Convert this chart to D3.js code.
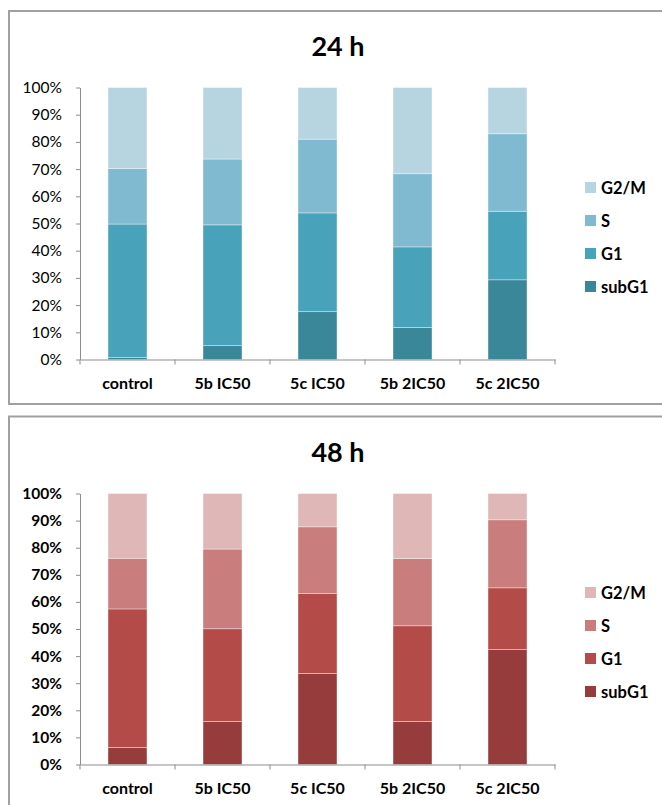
<!DOCTYPE html>
<html>
<head>
<meta charset="utf-8">
<script src="https://cdn.jsdelivr.net/npm/d3@7/dist/d3.min.js"></script>
<style>
  html, body { margin: 0; padding: 0; background: #fff; }
  svg { display: block; font-family: Lato, "Open Sans", sans-serif; }
</style>
</head>
<body>
<svg id="chart" width="662" height="805"></svg>
<script>
// Treatments on the x axis
const categories = ["control", "5b IC50", "5c IC50", "5b 2IC50", "5c 2IC50"];
// Cell-cycle phases, stacked bottom to top
const phases = ["subG1", "G1", "S", "G2/M"];
const yTicks = [0, 10, 20, 30, 40, 50, 60, 70, 80, 90, 100];

// 24 h: percentage of cells in each phase
const subG1_24 = [0.7, 5.1, 17.6, 11.8, 29.3];
const G1_24    = [49.1, 44.4, 36.3, 29.6, 25.2];
const S_24     = [20.4, 24.2, 27.1, 26.9, 28.5];
const G2M_24   = [29.8, 26.3, 19.0, 31.7, 17.0];

// 48 h: percentage of cells in each phase
const subG1_48 = [6.3, 15.9, 33.6, 15.9, 42.4];
const G1_48    = [51.1, 34.2, 29.5, 35.3, 22.8];
const S_48     = [18.7, 29.4, 24.6, 24.8, 25.1];
const G2M_48   = [23.9, 20.5, 12.3, 24.0, 9.7];

const colors24 = ["#3a879a", "#47a2ba", "#7fbad0", "#b7d5e0"];
const colors48 = ["#963c3c", "#b34b49", "#c97d7c", "#dfb7b7"];

const svg = d3.select("#chart");

function rows(series) {
  return categories.map((c, i) => {
    const r = { category: c };
    phases.forEach((p, k) => { r[p] = series[k][i]; });
    return r;
  });
}

function drawPanel(opt) {
  // panel frame (runs off the right edge)
  svg.append("rect")
    .attr("x", 9).attr("y", opt.top)
    .attr("width", 700).attr("height", opt.frameH)
    .attr("fill", "#fff").attr("stroke", "#a0a0a0").attr("stroke-width", 2);

  const g = svg.append("g");

  g.append("text")
    .attr("x", 338).attr("y", opt.titleY)
    .attr("text-anchor", "middle")
    .attr("font-size", 27).attr("font-weight", 700).attr("fill", "#000")
    .text(opt.title);

  const x = d3.scaleBand().domain(categories)
    .range([80, 555]).paddingInner(0.59).paddingOuter(0.295);
  const y = d3.scaleLinear().domain([0, 100]).range([opt.y0, opt.y1]);

  const stack = d3.stack().keys(phases)(rows(opt.series));

  g.selectAll("g.layer").data(stack).join("g")
    .attr("class", "layer")
    .attr("fill", (d, i) => opt.colors[i])
    .selectAll("rect").data(d => d).join("rect")
    .attr("x", d => x(d.data.category))
    .attr("width", x.bandwidth())
    .attr("y", d => y(d[1]))
    .attr("height", d => y(d[0]) - y(d[1]))
    .attr("stroke", "#fff").attr("stroke-opacity", 0.45).attr("stroke-width", 0.8);

  // y axis
  const ya = g.append("g").attr("transform", "translate(80,0)")
    .call(d3.axisLeft(y).tickValues(yTicks).tickSize(4).tickSizeOuter(0)
      .tickPadding(14).tickFormat(d => d + "%"));
  ya.select(".domain").attr("stroke", "#8c8c8c");
  ya.selectAll(".tick line").attr("stroke", "#8c8c8c");
  ya.selectAll("text").attr("font-size", 15.5).attr("fill", "#000")
    .attr("font-family", "Lato, sans-serif")
    .attr("font-weight", opt.boldTicks ? 700 : 400);

  // x axis: labels centred on bars, tick marks on category boundaries
  const xa = g.append("g").attr("transform", `translate(0,${opt.y0})`)
    .call(d3.axisBottom(x).tickSize(0).tickSizeOuter(0).tickPadding(18));
  xa.select(".domain").attr("stroke", "#8c8c8c");
  xa.selectAll("text").attr("font-size", 16).attr("font-weight", 700)
    .attr("fill", "#000").attr("font-family", "Lato, sans-serif");
  const bounds = d3.range(categories.length + 1).map(i => x.range()[0] + i * x.step());
  xa.selectAll("line.bound").data(bounds).join("line")
    .attr("class", "bound")
    .attr("x1", d => d).attr("x2", d => d)
    .attr("y1", 0).attr("y2", 5)
    .attr("stroke", "#8c8c8c");

  // legend, top entry is the top of the stack
  const leg = g.append("g").attr("transform", `translate(585,${opt.legendY})`);
  const items = phases.map((p, i) => ({ p, c: opt.colors[i] })).reverse();
  const it = leg.selectAll("g").data(items).join("g")
    .attr("transform", (d, i) => `translate(0,${i * 33})`);
  it.append("rect").attr("width", 11).attr("height", 11).attr("fill", d => d.c);
  it.append("text").attr("x", 16).attr("y", 11.5)
    .attr("font-size", 16.5).attr("font-weight", 700).attr("fill", "#000")
    .text(d => d.p);
}

drawPanel({
  title: "24 h", top: 11, frameH: 393, titleY: 56,
  y0: 359.5, y1: 87.5, legendY: 182,
  series: [subG1_24, G1_24, S_24, G2M_24], colors: colors24, boldTicks: false
});
drawPanel({
  title: "48 h", top: 416.5, frameH: 420, titleY: 462,
  y0: 764.5, y1: 493.5, legendY: 587,
  series: [subG1_48, G1_48, S_48, G2M_48], colors: colors48, boldTicks: true
});
</script>
</body>
</html>
